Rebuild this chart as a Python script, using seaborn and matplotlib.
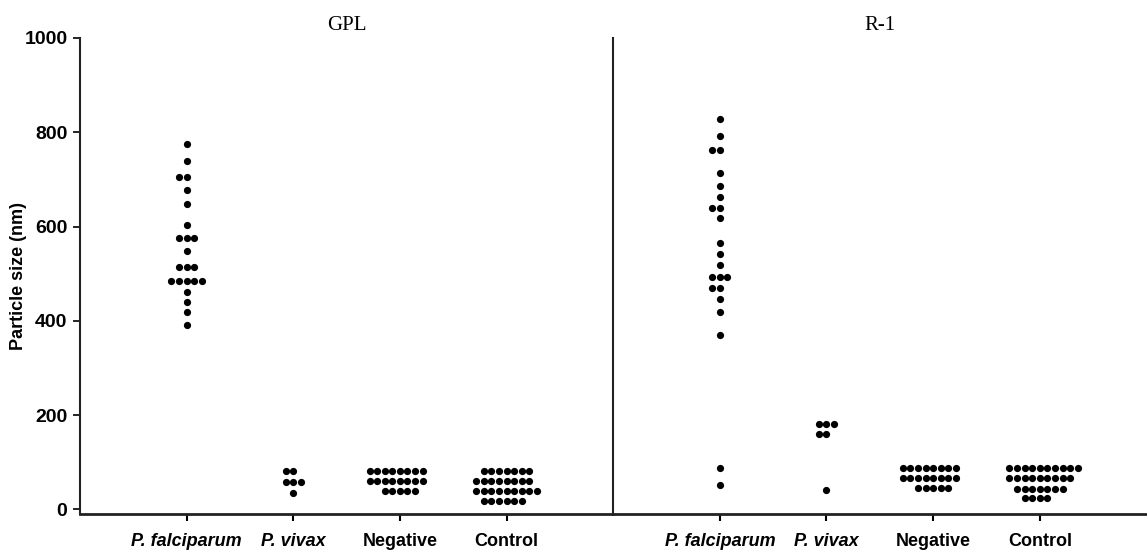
import numpy as np
import pandas as pd
import matplotlib
matplotlib.use("Agg")
import matplotlib.pyplot as plt
import seaborn as sns

# --- data (particle size, nm) ---
groups = ["falciparum", "vivax", "negative", "control"]
tick_labels = ["P. falciparum", "P. vivax", "Negative", "Control"]
italic_ticks = [True, True, False, False]
panel_titles = ["GPL", "R-1"]

gpl_falciparum = [776, 740, 705, 705, 677, 647, 604, 576, 576, 576, 547,
                  514, 514, 514, 484, 484, 484, 484, 484, 461, 439, 418, 391]
gpl_vivax = [81, 81, 57, 57, 57, 34]
gpl_negative = [81] * 8 + [59] * 8 + [38] * 5
gpl_control = [81] * 7 + [59] * 8 + [38] * 9 + [18] * 6

r1_falciparum = [829, 792, 762, 762, 713, 686, 662, 640, 640, 619, 564,
                 542, 519, 493, 493, 493, 470, 470, 447, 418, 370, 88, 52]
r1_vivax = [180, 180, 180, 159, 159, 42]
r1_negative = [88] * 8 + [66] * 8 + [46] * 5
r1_control = [88] * 10 + [66] * 9 + [44] * 7 + [24] * 4

y_ticks = [0, 200, 400, 600, 800, 1000]


def to_frame(series):
    rows = []
    for grp, vals in zip(groups, series):
        for v in vals:
            rows.append({"group": grp, "size": v})
    return pd.DataFrame(rows)


panels = [
    to_frame([gpl_falciparum, gpl_vivax, gpl_negative, gpl_control]),
    to_frame([r1_falciparum, r1_vivax, r1_negative, r1_control]),
]

sns.set_style("ticks")
plt.rcParams["font.family"] = ["Liberation Sans", "DejaVu Sans"]
# plain black text like the original figure
plt.rcParams["text.color"] = "black"
plt.rcParams["axes.labelcolor"] = "black"
plt.rcParams["xtick.color"] = "black"
plt.rcParams["ytick.color"] = "black"

fig, axes = plt.subplots(1, 2, sharey=True, figsize=(11.47, 5.56), dpi=100)
fig.subplots_adjust(left=0.0697, right=0.9995, bottom=0.0755, top=0.9317, wspace=0)

for i, (ax, df) in enumerate(zip(axes, panels)):
    sns.swarmplot(data=df, x="group", y="size", order=groups, color="black",
                  size=5.2, linewidth=0, ax=ax)
    ax.set_xlim(-1, 4)
    ax.set_ylim(-10, 1000)
    ax.set_xlabel("")
    ax.set_title(panel_titles[i], fontfamily=["Liberation Serif", "DejaVu Serif"],
                 fontsize=15, pad=6, color="black")

    ax.spines["top"].set_visible(False)
    ax.spines["right"].set_visible(False)
    ax.spines["bottom"].set_linewidth(2.0)
    ax.spines["left"].set_linewidth(1.5)
    ax.spines["bottom"].set_color("#222222")
    ax.spines["left"].set_color("#222222")

    ax.set_xticks(range(len(groups)))
    ax.set_xticklabels(tick_labels)
    for lab, it in zip(ax.get_xticklabels(), italic_ticks):
        lab.set_fontweight("bold")
        lab.set_fontsize(13)
        if it:
            lab.set_fontstyle("italic")
    ax.tick_params(axis="x", direction="out", length=5, width=1.5, pad=9)

    if i == 0:
        ax.set_yticks(y_ticks)
        ax.set_yticklabels([str(t) for t in y_ticks], fontweight="bold", fontsize=14)
        ax.tick_params(axis="y", direction="out", length=5, width=1.2, pad=4)
        ax.set_ylabel("Particle size (nm)", fontweight="bold", fontsize=13)
        ax.yaxis.set_label_coords(-0.10, 0.5)
    else:
        ax.set_ylabel("")
        ax.tick_params(axis="y", left=False, labelleft=False)

fig.savefig("out.png", dpi=100)
